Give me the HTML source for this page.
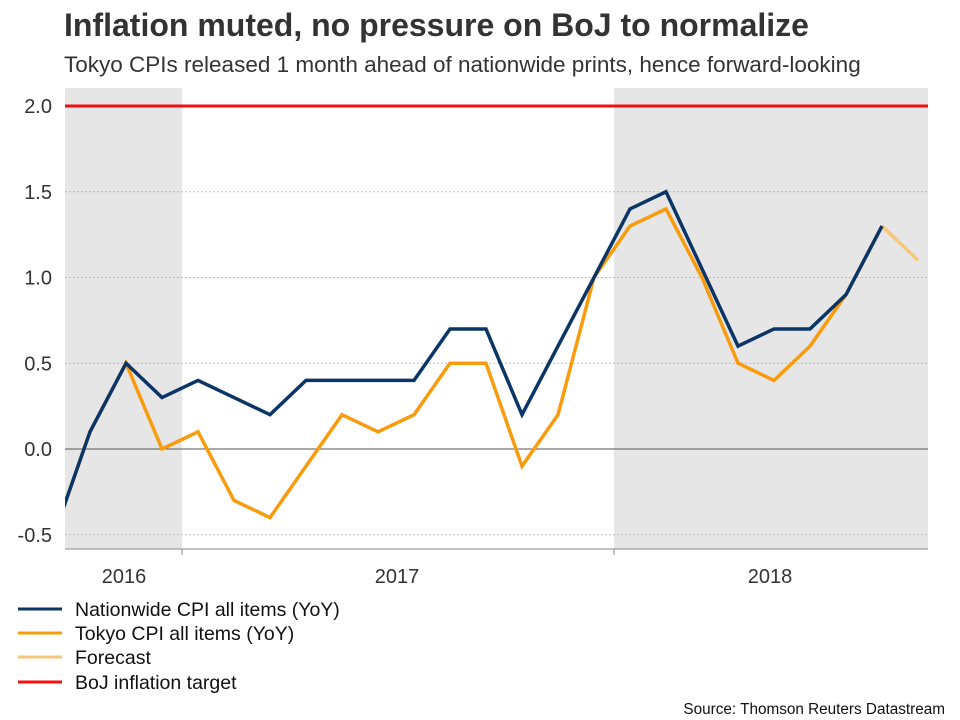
<!DOCTYPE html>
<html><head><meta charset="utf-8"><style>
body{margin:0;background:#fff;font-family:"Liberation Sans",Arial,sans-serif;}
#wrap{position:relative;width:960px;height:720px;overflow:hidden;}
</style></head><body>
<div id="wrap">
<svg id="chart" width="960" height="720" xmlns="http://www.w3.org/2000/svg">
<text x="64" y="36" font-size="32" font-weight="bold" fill="#333">Inflation muted, no pressure on BoJ to normalize</text>
<text x="64" y="72" font-size="22.5" fill="#333">Tokyo CPIs released 1 month ahead of nationwide prints, hence forward-looking</text>
<g id="plot"></g>
<g>
<line x1="18" y1="609" x2="62" y2="609" stroke="#0b3566" stroke-width="3"/><text x="75" y="616" font-size="19.5" fill="#111">Nationwide CPI all items (YoY)</text>
<line x1="18" y1="633" x2="62" y2="633" stroke="#f89c0e" stroke-width="3"/><text x="75" y="640" font-size="19.5" fill="#111">Tokyo CPI all items (YoY)</text>
<line x1="18" y1="657" x2="62" y2="657" stroke="#f9c77a" stroke-width="3"/><text x="75" y="664" font-size="19.5" fill="#111">Forecast</text>
<line x1="18" y1="682" x2="62" y2="682" stroke="#f01010" stroke-width="3"/><text x="75" y="689" font-size="19.5" fill="#111">BoJ inflation target</text>
</g>
<text x="945" y="714" font-size="15.3" fill="#111" text-anchor="end">Source: Thomson Reuters Datastream</text>
</svg>
</div>
<script>
const months = ["2016-09","2016-10","2016-11","2016-12","2017-01","2017-02","2017-03","2017-04","2017-05","2017-06","2017-07","2017-08","2017-09","2017-10","2017-11","2017-12","2018-01","2018-02","2018-03","2018-04","2018-05","2018-06","2018-07","2018-08"];
const nationwide = [-0.5,0.1,0.5,0.3,0.4,0.3,0.2,0.4,0.4,0.4,0.4,0.7,0.7,0.2,0.6,1.0,1.4,1.5,1.05,0.6,0.7,0.7,0.9,1.3];
const tokyo = [-0.5,0.1,0.5,0.0,0.1,-0.3,-0.4,-0.1,0.2,0.1,0.2,0.5,0.5,-0.1,0.2,1.0,1.3,1.4,1.0,0.5,0.4,0.6,0.9,1.3];
const forecastMonths = ["2018-08","2018-09"];
const forecast = [1.3,1.1];
const target = 2.0;
const yTicks = [-0.5,0.0,0.5,1.0,1.5,2.0];
const yearLabels = ["2016","2017","2018"];

const NS="http://www.w3.org/2000/svg";
const L=65,R=928,T=88,B=549;
function monthIdx(m){const [y,mo]=m.split("-").map(Number);return (y-2017)*12+(mo-1);}
function x(m){return 182+16+36*monthIdx(m);}
function xb(i){return 182+36*i;}
function y(v){return 449-171.5*v;}
const g=document.getElementById('plot');
function mk(tag,attrs,parent){const e=document.createElementNS(NS,tag);for(const k in attrs)e.setAttribute(k,attrs[k]);(parent||g).appendChild(e);return e;}
const defs=mk('defs',{});const cp=mk('clipPath',{id:'clip'},defs);mk('rect',{x:L,y:T,width:R-L,height:B-T},cp);
const s1=mk('rect',{x:L,y:T,width:xb(0)-L,height:B-T,fill:'#e6e6e6'});


const s2=mk('rect',{x:xb(12),y:T,width:R-xb(12),height:B-T,fill:'#e6e6e6'});


yTicks.forEach(v=>{
 const gl=mk('line',{x1:L,x2:R,y1:y(v),y2:y(v),stroke:v===0?'#555':'#bbb','stroke-width':1,'stroke-dasharray':v===0?'':'2,2'});
 
 
 const t=mk('text',{x:52,y:y(v)+7,'font-size':20,fill:'#333','text-anchor':'end'});t.textContent=v.toFixed(1);
 
 
});
const ax=mk('line',{x1:L,x2:R,y1:B,y2:B,stroke:'#888'});


[0,12].forEach(i=>{const tk=mk('line',{x1:xb(i),x2:xb(i),y1:B,y2:B+6,stroke:'#888'});
 
 });
const yl=[124,397,770];
yearLabels.forEach((s,i)=>{const t=mk('text',{x:yl[i],y:583,'font-size':20,fill:'#333','text-anchor':'middle'});t.textContent=s;
 
 });
const tl=mk('line',{x1:L,x2:R,y1:y(target),y2:y(target),stroke:'#f01010','stroke-width':3});


function line(ms,vals,color,name){
 const p=mk('polyline',{points:ms.map((m,i)=>x(m)+','+y(vals[i])).join(' '),fill:'none',stroke:color,'stroke-width':3.5,'stroke-linejoin':'miter','clip-path':'url(#clip)'});
 
 
}
line(forecastMonths,forecast,'#f9c77a','forecast-line');
line(months,tokyo,'#f89c0e','tokyo-cpi-line');
line(months,nationwide,'#0b3566','nationwide-cpi-line');
</script>
</body></html>
